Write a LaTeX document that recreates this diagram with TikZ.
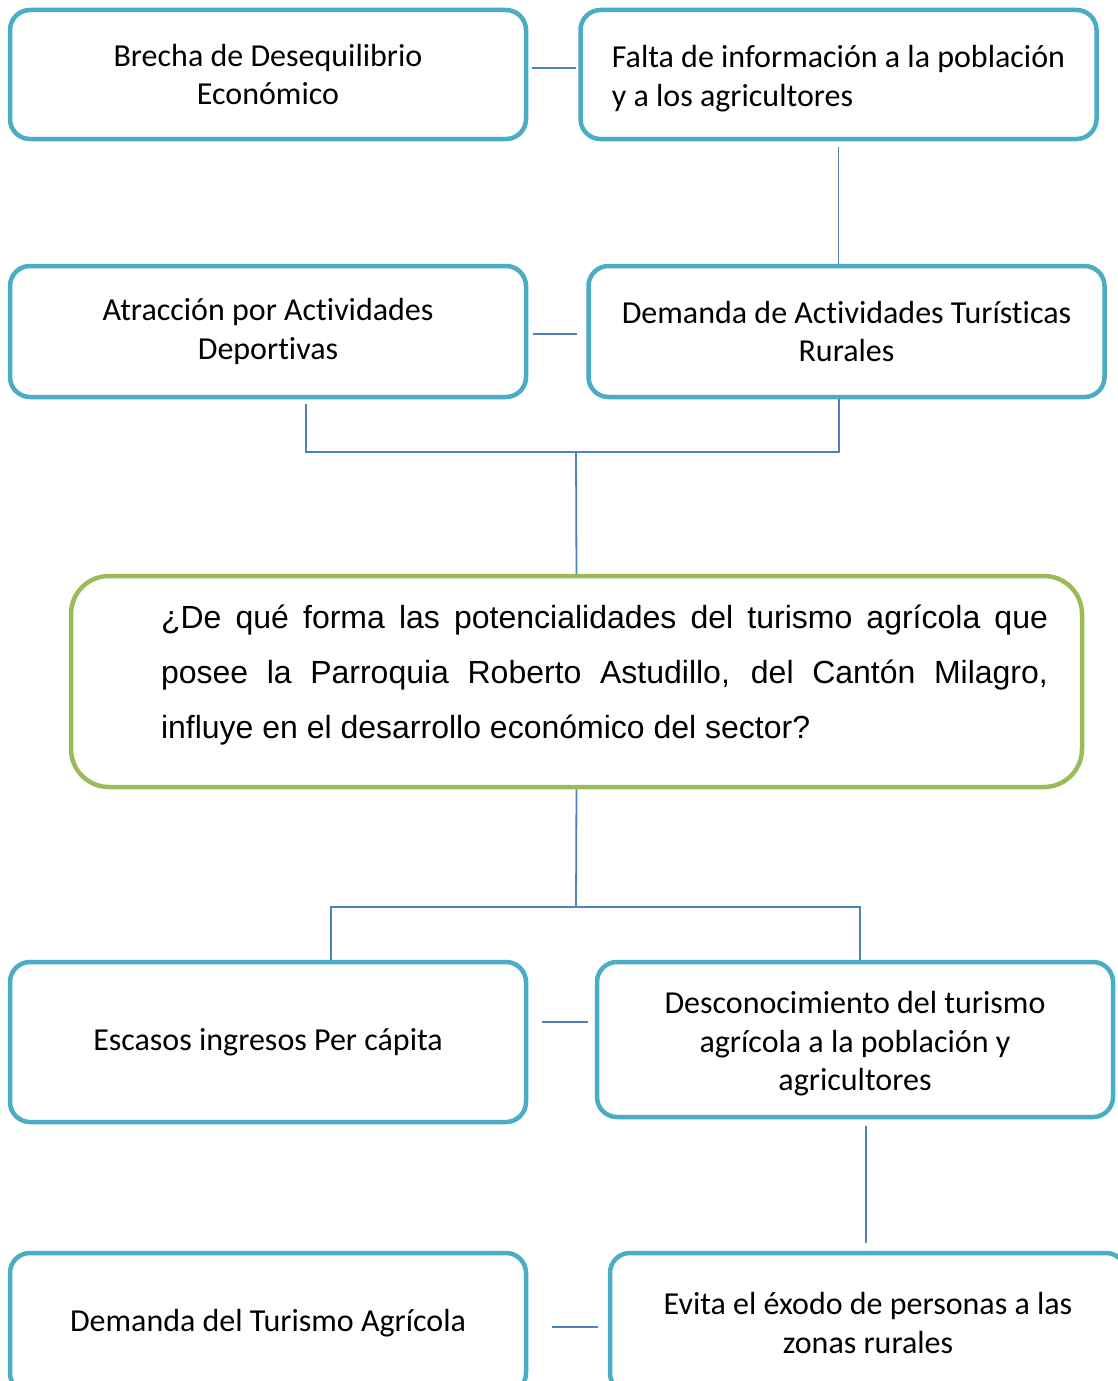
\documentclass[tikz,border=0pt]{standalone}
\usepackage{fontspec}
\setmainfont{Carlito}[Ligatures=NoCommon]
\newfontfamily\arialfont{Liberation Sans}
\definecolor{boxcyan}{HTML}{4BACC6}
\definecolor{boxgreen}{HTML}{9BBB59}
\definecolor{linkblue}{HTML}{4F81BD}
\begin{document}
\begin{tikzpicture}[x=1pt, y=-1pt,
  box/.style={draw=boxcyan, line width=4.5pt, rounded corners=20pt, fill=white,
    minimum width=516pt, align=center, font=\fontsize{32}{38.5}\selectfont},
  link/.style={draw=linkblue, line width=1.8pt}]
  \useasboundingbox (0,0) rectangle (1118,1381);
  \clip (0,0) rectangle (1118,1381);
  \fill[white] (0,0) rectangle (1118,1381);
  % causas
  \node[box, minimum height=129pt] (brecha) at (268,74.5) {Brecha de Desequilibrio\\Económico};
  \node[box, minimum height=129pt, align=left] (falta) at (838.5,74.5) {\rule{0pt}{30pt}Falta de información a la población\\y a los agricultores};
  \node[box, minimum height=131pt] (atraccion) at (268,331.5) {Atracción por Actividades\\Deportivas};
  \node[box, minimum height=131pt] (demact) at (846.5,331.5) {Demanda de Actividades Turísticas\\Rurales};
  % problema
  \node[draw=boxgreen, line width=4.5pt, rounded corners=38pt, minimum width=1011pt, minimum height=211pt] (pregunta) at (576.5,681.5) {};
  \node[text width=887pt, align=justify, inner sep=0pt, font=\arialfont\fontsize{32}{55}\selectfont] (preguntatxt) at (604.5,675)
    {¿De qué forma las potencialidades del turismo agrícola que\linebreak posee la Parroquia Roberto Astudillo, del Cantón Milagro,\linebreak influye en el desarrollo económico del sector?};
  % efectos
  \node[box, minimum height=160pt] (escasos) at (268,1042) {Escasos ingresos Per cápita};
  \node[box, minimum height=155pt] (desconoc) at (855,1039.5) {\rule{0pt}{31pt}Desconocimiento del turismo\\agrícola a la población y\\agricultores};
  \node[box, minimum height=140pt] (demtur) at (268,1323) {Demanda del Turismo Agrícola};
  \node[box, minimum height=140pt] (evita) at (868,1323) {Evita el éxodo de personas a las\\zonas rurales};
  \coordinate (jtop) at (576,452);
  \coordinate (jbot) at (576,907);
  \draw[link] ([xshift=4pt,yshift=6.5pt]brecha.east) -- ([xshift=-2pt,yshift=6.5pt]falta.west);
  \draw[link] ([yshift=-6pt]falta.south) -- (falta.south |- demact.north);
  \draw[link] ([xshift=5pt,yshift=-2.5pt]atraccion.east) -- ([xshift=-9pt,yshift=-2.5pt]demact.west);
  \draw[link] ([xshift=38pt,yshift=-5pt]atraccion.south) |- (jtop) -| ([xshift=-7.5pt]demact.south);
  \draw[link] (jtop) -- (pregunta.north);
  \draw[link] (pregunta.south) -- (jbot);
  \draw[link] ([xshift=63pt]escasos.north) |- (jbot) -| ([xshift=5pt]desconoc.north);
  \draw[link] ([xshift=14pt,yshift=20pt]escasos.east) -- ([xshift=-7pt,yshift=17.5pt]desconoc.west);
  \draw[link] ([xshift=11pt,yshift=-7pt]desconoc.south) -- ([xshift=-2pt,yshift=8pt]evita.north);
  \draw[link] ([xshift=24pt,yshift=-4pt]demtur.east) -- ([xshift=-10pt,yshift=-4pt]evita.west);
\end{tikzpicture}
\end{document}
